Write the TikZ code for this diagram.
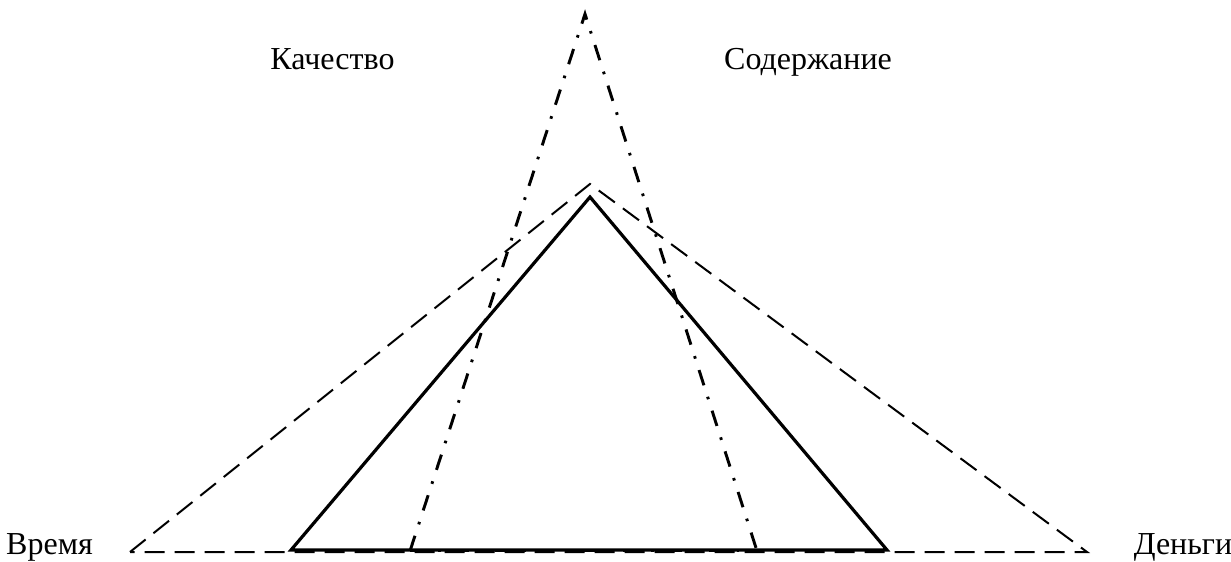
\documentclass[tikz,border=0pt]{standalone}
\usepackage{fontspec}
\setmainfont{Liberation Serif}
\begin{document}
\begin{tikzpicture}[x=0.75pt,y=-0.75pt,
  lbl/.style={font=\fontsize{24}{28}\selectfont, inner sep=0pt, anchor=base},
  solidtri/.style={line width=2.4pt, line join=miter},
  dashtri/.style={line width=1.5pt, dash pattern=on 15pt off 7.5pt},
  dashdottri/.style={line width=2.2pt, dash pattern=on 12pt off 9pt on 2pt off 9pt}]
\useasboundingbox (0,0) rectangle (1231,561);
% solid triangle
\coordinate (sA) at (590,197);
\coordinate (sL) at (291,550);
\coordinate (sR) at (887,550);
% dashed triangle
\coordinate (dA) at (590,184);
\coordinate (dL) at (130,552);
\coordinate (dR) at (1087,552);
% dash-dot triangle
\coordinate (cA) at (585,14);
\coordinate (cL) at (410,551);
\coordinate (cR) at (757,551);
\draw[dashtri] (dL) -- (dA) -- (dR) -- cycle;
\draw[dashdottri] (cL) -- (cA) -- (cR);
\draw[dashdottri] (cL) -- (cR);
\draw[solidtri] (sL) -- (sA) -- (sR) -- cycle;
\node[lbl] (q) at (332.5,69) {Качество};
\node[lbl] (c) at (808,69) {Содержание};
\node[lbl] (t) at (49.5,554) {Время};
\node[lbl] (m) at (1183,554) {Деньги};
\end{tikzpicture}
\end{document}
